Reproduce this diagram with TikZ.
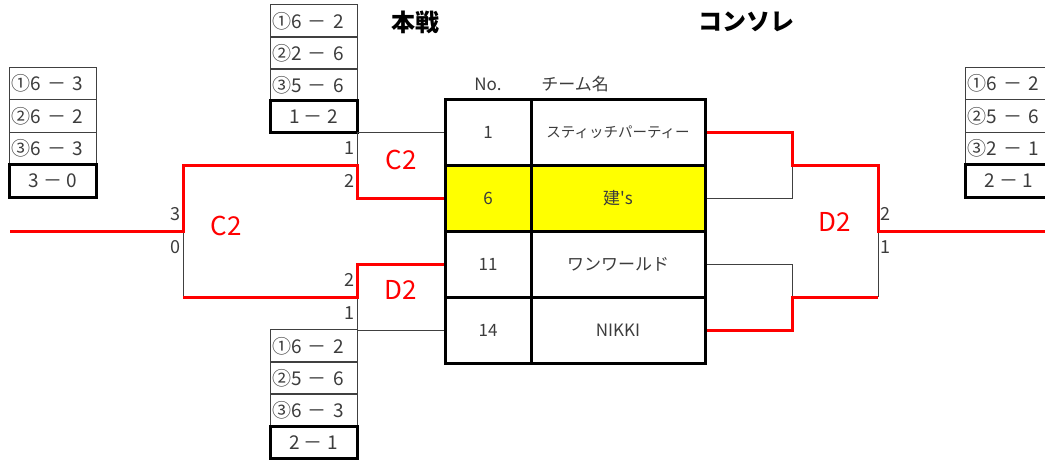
\documentclass[tikz,border=0pt]{standalone}
\usepackage{fontspec}
\setmainfont{Noto Sans CJK JP}
\definecolor{txt}{RGB}{60,60,60}
\definecolor{winred}{RGB}{255,0,0}
\definecolor{hilite}{RGB}{255,255,0}

\tikzset{
  thinline/.style={line width=1pt, black!75},
  winline/.style={line width=3pt, winred},
  nocell/.style={draw, line width=3pt, minimum width=86, minimum height=66, inner sep=0, font=\fontsize{17}{17}\selectfont, text=txt},
  namecell/.style={nocell, minimum width=174},
  gamecell/.style={draw=black!75, line width=1pt, minimum width=87, minimum height=32.5, inner sep=0, text width=83, align=left, font=\fontsize{19}{19}\selectfont, text=txt},
  totalcell/.style={draw, line width=3pt, minimum width=87, minimum height=32.5, inner sep=0, font=\fontsize{19}{19}\selectfont, text=txt},
  setlabel/.style={font=\fontsize{18}{18}\selectfont, text=txt, inner sep=1},
  roundlabel/.style={font=\fontsize{26}{26}\selectfont, text=winred},
  headlabel/.style={font=\fontsize{17}{17}\selectfont, text=txt},
  titlelabel/.style={font=\fontsize{24}{24}\selectfont\bfseries}
}

\begin{document}
\begin{tikzpicture}[x=1pt,y=-1pt]
    \clip (0,0) rectangle (1045,461);

    \node[titlelabel] (main) at (415,22) {本戦};
    \node[titlelabel] (conso) at (746,22) {コンソレ};
    \node[headlabel] (hno) at (488,84) {No.};
    \node[headlabel] (hname) at (575,84) {チーム名};

    \node[nocell] (n1) at (488,132) {1};
    \node[namecell, font=\fontsize{14.5}{14.5}\selectfont] (t1) at (618,132) {スティッチパーティー};
    \node[nocell, fill=hilite] (n6) at (488,198) {6};
    \node[namecell, fill=hilite] (t6) at (618,198) {建\textquotesingle s};
    \node[nocell] (n11) at (488,264) {11};
    \node[namecell] (t11) at (618,264) {ワンワールド};
    \node[nocell] (n14) at (488,330) {14};
    \node[namecell] (t14) at (618,330) {NIKKI};

    \node[gamecell] (ua) at (313.5,21) {①6 － 2};
    \node[gamecell] (ub) at (313.5,53) {②2 － 6};
    \node[gamecell] (uc) at (313.5,85) {③5 － 6};
    \node[totalcell] (ut) at (313.5,116.5) {1 － 2};

    \node[gamecell] (la) at (313.5,346) {①6 － 2};
    \node[gamecell] (lb) at (313.5,378) {②5 － 6};
    \node[gamecell] (lc) at (313.5,410) {③6 － 3};
    \node[totalcell] (lt) at (313.5,442.5) {2 － 1};

    \node[gamecell] (fa) at (53,83.5) {①6 － 3};
    \node[gamecell] (fb) at (53,116) {②6 － 2};
    \node[gamecell] (fc) at (53,148.5) {③6 － 3};
    \node[totalcell] (ft) at (53,181) {3 － 0};

    \node[gamecell] (ra) at (1009,83.5) {①6 － 2};
    \node[gamecell] (rb) at (1009,116) {②5 － 6};
    \node[gamecell] (rc) at (1009,148.5) {③2 － 1};
    \node[totalcell] (rt) at (1009,181) {2 － 1};

    \coordinate (a2) at (357,165);
    \coordinate (a4) at (357,297);
    \coordinate (b1) at (183,165);
    \coordinate (b2) at (183,297);
    \coordinate (outL) at (10,231);
    \coordinate (c1) at (792,165);
    \coordinate (c2) at (792,297);
    \coordinate (d1) at (878,165);
    \coordinate (d2) at (878,297);
    \coordinate (outR) at (1045,231);

    \draw[thinline] (n1.west) -| (a2);
    \draw[thinline] (n14.west) -| (a4);
    \draw[thinline] (b1) -- (b2);
    \draw[thinline] (t6.east) -| (c1);
    \draw[thinline] (t11.east) -| (c2);
    \draw[thinline] (d1) -- (d2);

    \draw[winline] (n6.west) -| (a2) -- (b1) |- (outL);
    \draw[winline] (n11.west) -| (a4) -- (b2);
    \draw[winline] (t1.east) -| (c1) -- (d1) |- (outR);
    \draw[winline] (t14.east) -| (c2) -- (d2);

    \node[setlabel, anchor=east] (u1) at (356,148) {1};
    \node[setlabel, anchor=east] (u2) at (356,181) {2};
    \node[setlabel, anchor=east] (l2) at (356,280) {2};
    \node[setlabel, anchor=east] (l1) at (356,313) {1};
    \node[setlabel, anchor=east] (f3) at (182,214) {3};
    \node[setlabel, anchor=east] (f0) at (182,247) {0};
    \node[setlabel, anchor=west] (r2) at (879,214) {2};
    \node[setlabel, anchor=west] (r1) at (879,247) {1};

    \node[roundlabel] (cu) at (401,160) {C2};
    \node[roundlabel] (dl) at (401,290) {D2};
    \node[roundlabel] (cf) at (226,226) {C2};
    \node[roundlabel] (dr) at (835,222) {D2};
\end{tikzpicture}
\end{document}
